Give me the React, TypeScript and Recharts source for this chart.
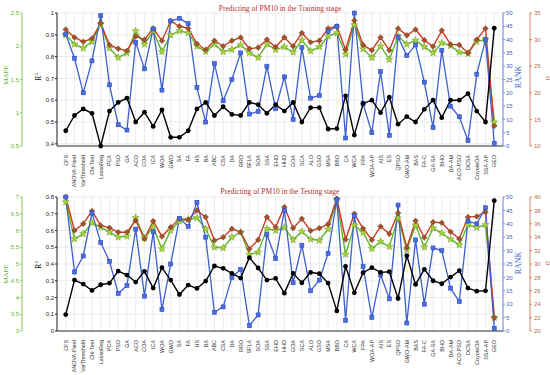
import React from 'react';
import { ComposedChart, Line, XAxis, YAxis, CartesianGrid } from 'recharts';

const categories = [
  'CFS', 'ANOVA-Ftest', 'VarThreshold', 'Chi-Test', 'LassoReg', 'PCA', 'PSO', 'GA', 'ACO', 'COA',
  'ICA', 'WOA', 'GWO', 'SA', 'FA', 'HS', 'BA', 'ABC', 'CSA', 'DA',
  'RRO', 'SFLA', 'SOA', 'SSA', 'EHO', 'HHO', 'GOA', 'SCA', 'ALO', 'GSO',
  'MSA', 'BBO', 'CA', 'WCA', 'FPA', 'WOA-AP', 'AIS', 'ES', 'QPSO', 'GWO-AM',
  'BAS', 'FA-C', 'GA-SA', 'BHO', 'DA-AM', 'ACO-PSO', 'DCSA', 'CoyoteOA', 'SSA-AP', 'GEO',
];

// training stage
const trainR2 = [
  0.46, 0.53, 0.56, 0.54, 0.39, 0.55, 0.59, 0.61, 0.5, 0.545,
  0.48, 0.555, 0.43, 0.43, 0.46, 0.56, 0.59, 0.53, 0.57, 0.535,
  0.53, 0.59, 0.58, 0.54, 0.58, 0.55, 0.59, 0.5, 0.566, 0.566,
  0.468, 0.47, 0.62, 0.44, 0.584, 0.6, 0.543, 0.614, 0.49, 0.525,
  0.5, 0.558, 0.6, 0.52, 0.6, 0.6, 0.63, 0.55, 0.5, 0.93,
];
const trainMAPE = [
  2.17, 2.03, 1.97, 2.07, 2.33, 1.97, 1.83, 1.9, 2.23, 2.03,
  2.23, 1.92, 2.17, 2.23, 2.2, 2.0, 1.92, 2.03, 1.92, 1.95,
  2.02, 1.9, 1.83, 2.03, 1.95, 1.99, 1.91, 2.09, 1.93, 1.99,
  2.15, 2.2, 1.88, 2.32, 1.96, 1.83, 2.0, 1.8, 2.15, 2.03,
  2.09, 1.99, 1.9, 2.05, 2.01, 1.91, 1.89, 2.07, 2.1, 0.86,
];
const trainRank = [
  42, 33, 20, 32, 49, 23, 8, 6, 39, 29,
  44, 21, 47, 48, 46, 22, 9, 31, 17, 25,
  35, 12, 13, 30, 14, 26, 10, 37, 18, 19,
  43, 45, 3, 50, 16, 5, 28, 4, 41, 34,
  38, 24, 7, 36, 15, 11, 2, 27, 40, 1,
];
const trainSigma = [
  31.9, 30.4, 29.6, 30.2, 33.1, 29.0, 28.3, 27.9, 30.6, 30.0,
  32.1, 29.8, 33.5, 32.5, 32.1, 29.2, 28.1, 29.8, 28.75, 29.8,
  30.4, 28.3, 28.5, 30.0, 28.6, 30.4, 28.75, 31.25, 29.5, 29.8,
  32.1, 32.5, 28.1, 33.6, 29.0, 28.0, 30.4, 28.0, 32.1, 30.8,
  31.9, 29.9, 28.7, 31.7, 29.1, 29.0, 27.5, 30.0, 32.1, 13.75,
];

// testing stage
const testR2 = [
  0.098, 0.304, 0.28, 0.242, 0.276, 0.286, 0.358, 0.334, 0.292, 0.356,
  0.256, 0.378, 0.304, 0.218, 0.274, 0.254, 0.298, 0.388, 0.374, 0.344,
  0.316, 0.438, 0.376, 0.304, 0.314, 0.226, 0.344, 0.288, 0.35, 0.342,
  0.286, 0.12, 0.386, 0.228, 0.348, 0.378, 0.35, 0.354, 0.194, 0.45,
  0.278, 0.368, 0.3, 0.282, 0.322, 0.36, 0.256, 0.238, 0.24, 0.778,
];
const testMAPE = [
  6.85, 5.75, 5.9, 6.23, 6.1, 5.95, 5.8, 5.83, 6.38, 5.78,
  6.1, 5.45, 6.0, 6.28, 6.33, 6.38, 6.05, 5.5, 5.48, 5.8,
  5.95, 5.28, 5.35, 6.05, 6.0, 6.09, 5.72, 5.97, 5.74, 5.7,
  6.04, 6.91, 5.29, 6.16, 5.94, 5.46, 5.67, 5.52, 6.37, 5.42,
  6.16, 5.5, 6.07, 5.92, 5.74, 5.57, 6.17, 6.09, 6.17, 3.4,
];
const testRank = [
  50, 22, 28, 44, 33, 26, 14, 17, 38, 13,
  37, 8, 25, 42, 39, 48, 35, 7, 9, 20,
  23, 2, 6, 36, 27, 45, 18, 32, 15, 19,
  29, 49, 4, 43, 24, 5, 21, 12, 47, 3,
  34, 10, 31, 30, 16, 11, 41, 40, 46, 1,
];
const testSigma = [
  40.0, 35.0, 36.0, 37.9, 35.75, 35.4, 34.75, 34.75, 36.5, 33.75,
  36.4, 34.1, 35.5, 36.75, 36.6, 38.0, 37.0, 33.5, 34.0, 35.25,
  34.75, 32.25, 33.6, 37.0, 35.5, 38.5, 35.35, 36.75, 34.95, 35.35,
  35.95, 39.75, 33.65, 37.5, 35.3, 33.6, 35.6, 34.5, 37.6, 32.45,
  36.45, 33.95, 36.25, 36.15, 34.8, 33.75, 37.0, 37.1, 37.75, 22.0,
];

// axis ticks
const trainR2Ticks = [0.4, 0.5, 0.6, 0.7, 0.8, 0.9, 1];
const trainMapeTicks = [0.5, 1, 1.5, 2, 2.5];
const trainSigmaTicks = [10, 15, 20, 25, 30, 35];
const testR2Ticks = [0, 0.1, 0.2, 0.3, 0.4, 0.5, 0.6, 0.7, 0.8];
const testMapeTicks = [3, 3.5, 4, 4.5, 5, 5.5, 6, 6.5, 7];
const testSigmaTicks = [20, 22, 24, 26, 28, 30, 32, 34, 36, 38, 40];
const rankTicks = [0, 5, 10, 15, 20, 25, 30, 35, 40, 45, 50];

const xTicks = categories.map((_, i) => i + 1);

const C_GREEN = '#5db62f';
const C_GREEN_AX = '#86c95a';
const C_BLUE = '#3c5fcf';
const C_RED = '#cc3a24';
const C_BROWN = '#a0522d';
const C_SIGMA_AX = '#c9866a';
const SANS = '"Liberation Sans", Arial, sans-serif';
const SERIF = '"Liberation Serif", "Times New Roman", serif';

function rows(r2: number[], mape: number[], rank: number[], sigma: number[]) {
  return categories.map((name, i) => ({
    idx: i + 1,
    name,
    r2: r2[i],
    mape: mape[i],
    rank: rank[i],
    sigma: sigma[i],
  }));
}

const CatTick = (props: any) => {
  const { x, y, payload } = props;
  const ty = y + 1;
  return (
    <text
      x={x}
      y={ty}
      transform={`rotate(-90, ${x}, ${ty})`}
      textAnchor="end"
      dominantBaseline="central"
      fontSize={5.4}
      fontFamily={SANS}
      fill="#333"
    >
      {categories[payload.value - 1]}
    </text>
  );
};

const CircleDot = (props: any) => {
  const { cx, cy, index } = props;
  if (cx == null || cy == null) return null;
  return <circle key={`c${index}`} cx={cx} cy={cy} r={2.4} fill="#000" />;
};

const SquareDot = (props: any) => {
  const { cx, cy, index } = props;
  if (cx == null || cy == null) return null;
  return (
    <rect key={`s${index}`} x={cx - 2} y={cy - 2} width={4} height={4} fill="#4a6ee0" stroke="#2b49b8" strokeWidth={0.6} />
  );
};

const DiamondDot = (props: any) => {
  const { cx, cy, index } = props;
  if (cx == null || cy == null) return null;
  const d = 2.8;
  return (
    <polygon
      key={`d${index}`}
      points={`${cx},${cy - d} ${cx + d},${cy} ${cx},${cy + d} ${cx - d},${cy}`}
      fill={C_BROWN}
      stroke="#7a3a1a"
      strokeWidth={0.5}
    />
  );
};

const StarDot = (props: any) => {
  const { cx, cy, index } = props;
  if (cx == null || cy == null) return null;
  const pts: string[] = [];
  for (let k = 0; k < 10; k++) {
    const r = k % 2 === 0 ? 3.8 : 1.6;
    const a = -Math.PI / 2 + (k * Math.PI) / 5;
    pts.push(`${cx + r * Math.cos(a)},${cy + r * Math.sin(a)}`);
  }
  return <polygon key={`p${index}`} points={pts.join(' ')} fill="#a8d43a" stroke="#6f9a1e" strokeWidth={0.5} />;
};

interface PanelProps {
  data: any[];
  height: number;
  top: number;
  xHeight: number;
  r2Domain: number[];
  r2Ticks: number[];
  mapeDomain: number[];
  mapeTicks: number[];
  sigmaDomain: number[];
  sigmaTicks: number[];
}

// axis ids are named so that R² sits next to the plot on the left and RANK on the right
function Panel(p: PanelProps) {
  const tickFont = { fontSize: 6, fontFamily: SANS };
  return (
    <ComposedChart
      width={550}
      height={p.height}
      data={p.data}
      margin={{ top: p.top, right: 0, bottom: 0, left: 0 }}
    >
      <CartesianGrid yAxisId="a_r2" stroke="#e2e2e2" strokeWidth={0.7} />
      <XAxis
        dataKey="idx"
        type="number"
        domain={[0, 51]}
        ticks={xTicks}
        interval={0}
        height={p.xHeight}
        tick={<CatTick />}
        tickLine={false}
        stroke="#333"
      />
      <YAxis
        yAxisId="a_r2"
        orientation="left"
        width={35}
        domain={p.r2Domain}
        ticks={p.r2Ticks}
        interval={0}
        tickSize={2}
        tickMargin={1}
        stroke="#222"
        tick={{ ...tickFont, fill: '#222' }}
      />
      <YAxis
        yAxisId="b_mape"
        orientation="left"
        width={22}
        domain={p.mapeDomain}
        ticks={p.mapeTicks}
        interval={0}
        tickSize={2}
        tickMargin={1}
        stroke={C_GREEN_AX}
        tick={{ ...tickFont, fill: C_GREEN }}
      />
      <YAxis
        yAxisId="c_rank"
        orientation="right"
        width={27}
        domain={[0, 50]}
        ticks={rankTicks}
        interval={0}
        tickSize={2}
        tickMargin={1}
        stroke="#6d8ae0"
        tick={{ ...tickFont, fill: C_BLUE }}
      />
      <YAxis
        yAxisId="d_sigma"
        orientation="right"
        width={20}
        domain={p.sigmaDomain}
        ticks={p.sigmaTicks}
        interval={0}
        tickSize={2}
        tickMargin={2}
        stroke={C_SIGMA_AX}
        tick={{ ...tickFont, fill: '#b86a4a' }}
      />
      <Line
        yAxisId="b_mape"
        dataKey="mape"
        type="linear"
        stroke={C_GREEN}
        strokeWidth={1.4}
        dot={<StarDot />}
        isAnimationActive={false}
      />
      <Line
        yAxisId="d_sigma"
        dataKey="sigma"
        type="linear"
        stroke={C_RED}
        strokeWidth={1.4}
        dot={<DiamondDot />}
        isAnimationActive={false}
      />
      <Line
        yAxisId="c_rank"
        dataKey="rank"
        type="linear"
        stroke={C_BLUE}
        strokeWidth={1.3}
        dot={<SquareDot />}
        isAnimationActive={false}
      />
      <Line
        yAxisId="a_r2"
        dataKey="r2"
        type="linear"
        stroke="#000"
        strokeWidth={1.4}
        dot={<CircleDot />}
        isAnimationActive={false}
      />
    </ComposedChart>
  );
}

const trainRows = rows(trainR2, trainMAPE, trainRank, trainSigma);
const testRows = rows(testR2, testMAPE, testRank, testSigma);

function AxisTitle({ x, y, text, color, size }: { x: number; y: number; text: React.ReactNode; color: string; size: number }) {
  return (
    <text
      x={x}
      y={y}
      transform={`rotate(-90, ${x}, ${y})`}
      textAnchor="middle"
      dominantBaseline="central"
      fontSize={size}
      fontFamily={SERIF}
      fill={color}
    >
      {text}
    </text>
  );
}

export default function App() {
  return (
    <div style={{ position: 'absolute', left: 0, top: 0, width: 550, height: 375, background: '#fff', overflow: 'hidden' }}>
      <div style={{ position: 'absolute', left: 0, top: 0 }}>
        <Panel
          data={trainRows}
          height={192}
          top={13}
          xHeight={46}
          r2Domain={[0.4, 1]}
          r2Ticks={trainR2Ticks}
          mapeDomain={[0.5, 2.5]}
          mapeTicks={trainMapeTicks}
          sigmaDomain={[10, 35]}
          sigmaTicks={trainSigmaTicks}
        />
      </div>
      <div style={{ position: 'absolute', left: 0, top: 185 }}>
        <Panel
          data={testRows}
          height={190}
          top={12}
          xHeight={44}
          r2Domain={[0, 0.8]}
          r2Ticks={testR2Ticks}
          mapeDomain={[3, 7]}
          mapeTicks={testMapeTicks}
          sigmaDomain={[20, 40]}
          sigmaTicks={testSigmaTicks}
        />
      </div>
      <svg width={550} height={375} style={{ position: 'absolute', left: 0, top: 0, pointerEvents: 'none' }}>
        <text x={280} y={8} textAnchor="middle" dominantBaseline="central" fontSize={7.5} fontFamily={SERIF} fill="#b0302c">
          Predicting of PM10 in the Training stage
        </text>
        <text x={280} y={191} textAnchor="middle" dominantBaseline="central" fontSize={7.5} fontFamily={SERIF} fill="#b0302c">
          Predicting of PM10 in the Testing stage
        </text>
        <AxisTitle x={6} y={75} text="MAPE" color={C_GREEN} size={7} />
        <AxisTitle x={38} y={77} text={<>R<tspan dy={-2} fontSize={5}>2</tspan></>} color="#111" size={8} />
        <AxisTitle x={518} y={77} text="RANK" color={C_BLUE} size={8} />
        <AxisTitle x={547} y={78} text="σ" color="#b86a4a" size={8} />
        <AxisTitle x={6} y={274} text="MAPE" color={C_GREEN} size={7} />
        <AxisTitle x={38} y={265} text={<>R<tspan dy={-2} fontSize={5}>2</tspan></>} color="#111" size={8} />
        <AxisTitle x={518} y={263} text="RANK" color={C_BLUE} size={8} />
        <AxisTitle x={547} y={263} text="σ" color="#b86a4a" size={8} />
      </svg>
    </div>
  );
}
